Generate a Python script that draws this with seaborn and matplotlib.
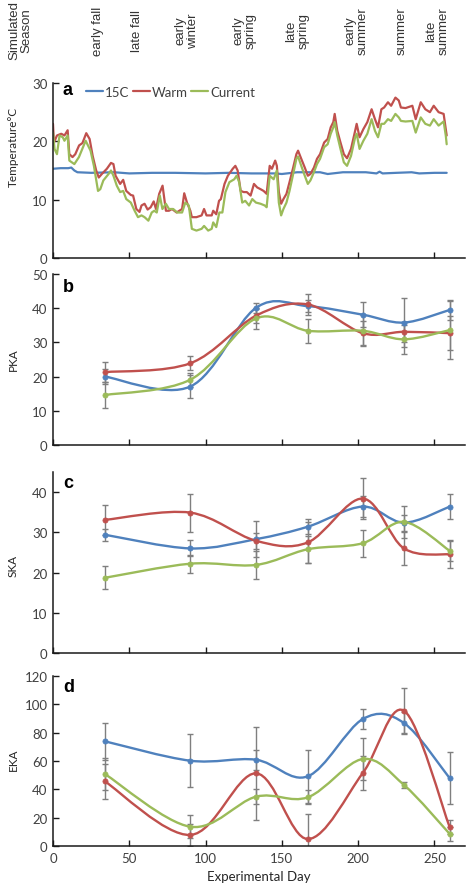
import numpy as np
import matplotlib
matplotlib.use("Agg")
import matplotlib.pyplot as plt
from matplotlib.path import Path
from matplotlib.patches import PathPatch
import seaborn as sns

# ---- data -------------------------------------------------------------
season_labels = ["early fall", "late fall", "early\nwinter", "early\nspring",
                 "late\nspring", "early\nsummer", "summer", "late\nsummer"]
season_days = [29, 54, 86, 123, 157, 195, 224, 247]

c15_day = [0, 5, 10, 12, 14, 16, 25, 40, 50, 65, 80, 100, 115, 130, 145, 150, 160, 175, 180, 190,
           205, 212, 214, 216, 225, 235, 240, 250, 258]
c15_temp = [15.3, 15.4, 15.4, 15.5, 15.0, 14.7, 14.6, 14.7, 14.5, 14.6, 14.6, 14.5, 14.6, 14.5, 14.5,
            14.4, 14.7, 14.7, 14.4, 14.7, 14.7, 14.5, 14.8, 14.5, 14.6, 14.7, 14.5, 14.6, 14.6]

warm_day = [0, 0.6, 2.6, 5.4, 7.5, 9.6, 10.7, 12.8, 14.6, 17.1,
            19.3, 21.8, 24, 26, 28.3, 30, 32, 35.3, 38, 39.6,
            41, 44, 46, 48, 51, 52.5, 54.6, 56.7, 58, 60,
            62, 64, 66, 67.5, 69.6, 71.8, 74, 76, 78, 81,
            84.6, 86, 87.8, 90, 91, 94, 97.4, 99, 100.6, 104,
            105, 107, 108.8, 110, 112.4, 114.6, 117.8, 119.5, 121, 123,
            125, 127, 129.5, 131.7, 133.8, 136, 138, 140, 142, 143.5,
            145.6, 146.7, 148, 149.5, 151, 153, 155, 157.4, 159.5, 160.6,
            162.7, 165, 167, 168.7, 171, 173, 175, 177.7, 180, 182,
            183.7, 184.6, 186.3, 188.4, 190.6, 192.7, 195.3, 198, 199, 200.9,
            203.4, 206, 208.8, 211, 213, 215.2, 217, 219.5, 221.6, 224.4,
            226.6, 228, 231, 235.5, 237.7, 241, 244, 247, 249.5, 252.7,
            256, 257.4, 258]
warm_temp = [23.0, 19.8, 21.0, 21.3, 21.0, 21.9, 17.8, 17.3, 17.8, 19.3,
             19.7, 21.4, 20.4, 17.5, 15.0, 13.8, 14.4, 15.3, 16.3, 16.1,
             14.1, 12.7, 13.4, 11.5, 10.8, 10.7, 8.4, 7.9, 9.0, 9.3,
             8.3, 8.7, 9.7, 8.4, 11.0, 12.4, 8.1, 8.1, 8.4, 7.8,
             8.4, 11.1, 9.5, 8.1, 7.0, 7.0, 7.3, 8.4, 7.3, 7.3,
             8.1, 7.5, 9.8, 10.1, 12.7, 14.1, 15.3, 15.8, 15.0, 11.5,
             11.3, 11.3, 10.7, 12.7, 12.1, 11.8, 11.5, 11.0, 15.8, 15.3,
             16.7, 15.8, 11.3, 9.3, 10.1, 11.0, 13.0, 15.5, 17.8, 18.4,
             17.0, 15.5, 14.1, 14.4, 15.5, 17.0, 17.8, 19.8, 20.4, 22.4,
             23.3, 24.7, 21.8, 19.8, 17.8, 17.1, 18.7, 21.8, 23.0, 20.7,
             22.1, 23.3, 25.5, 23.8, 22.4, 25.5, 25.8, 26.7, 26.1, 27.5,
             27.0, 25.8, 25.7, 26.1, 23.8, 26.7, 25.5, 25.0, 26.1, 25.0,
             24.7, 22.1, 21.0]

cur_day = [0, 1, 2.6, 4.3, 6.4, 7.5, 9.6, 10.7, 14, 17,
           21.4, 24.6, 26.8, 29.5, 31, 33, 36.4, 38, 39.6, 41.8,
           44, 46, 48, 51, 53.5, 55.7, 58, 60, 62.5, 64.7,
           66.4, 68, 70, 71.7, 74, 76, 78.8, 81.4, 84.6, 86.7,
           89, 91, 94, 97.4, 99, 101.7, 104, 105, 107, 109,
           111, 113, 115.6, 118.8, 120.3, 122, 124, 126, 128.5, 130.6,
           133, 136, 138.8, 140, 142, 144.6, 146.7, 148, 149.5, 151,
           153, 155, 157.4, 159.5, 160.6, 162.7, 165, 167, 168.7, 171,
           173, 175, 177.7, 180, 182, 183.7, 184.6, 186.3, 188.4, 190.6,
           192.7, 195.3, 198, 199, 200.9, 203.4, 206, 208.8, 211, 213,
           215.2, 217, 219.5, 221.6, 224.4, 226.6, 228, 231, 235.5, 237.7,
           241, 244, 247, 249.5, 252.7, 256, 257.4, 258]
cur_temp = [21.5, 18.7, 17.8, 21.0, 20.7, 20.1, 21.0, 16.7, 16.1, 17.3,
            20.1, 18.4, 15.8, 11.5, 11.8, 13.3, 14.4, 15.0, 14.1, 12.4,
            11.3, 11.5, 10.1, 9.5, 8.1, 7.0, 7.3, 7.0, 6.4, 7.8,
            8.1, 7.8, 10.7, 8.4, 9.3, 8.4, 8.4, 7.8, 7.8, 9.5,
            9.0, 5.0, 4.7, 5.0, 5.5, 4.7, 5.0, 6.1, 5.3, 7.8,
            7.8, 11.3, 13.0, 13.5, 14.1, 13.0, 9.5, 9.8, 9.0, 10.1,
            9.5, 9.3, 9.0, 8.7, 14.1, 13.5, 15.0, 9.5, 7.3, 8.4,
            9.5, 11.5, 14.4, 17.0, 17.4, 15.8, 14.1, 12.7, 13.3, 14.7,
            16.1, 17.0, 19.0, 19.5, 21.3, 22.4, 23.3, 21.0, 18.7, 16.4,
            15.8, 17.5, 20.7, 21.3, 18.7, 20.1, 21.3, 23.8, 21.8, 20.7,
            23.0, 23.0, 23.8, 23.5, 24.7, 24.1, 23.5, 23.4, 23.5, 21.5,
            24.1, 23.0, 22.7, 23.8, 22.7, 23.4, 21.0, 19.5]

sample_days = [34, 90, 133, 167, 203, 230, 260]

pka_15c = [20.0, 17.1, 40.1, 40.6, 38.1, 35.8, 39.5]
pka_15c_err = [2.2, 3.4, 1.5, 1.8, 3.6, 7.2, 2.9]
pka_warm = [21.3, 23.9, 37.8, 41.1, 32.7, 33.1, 32.7]
pka_warm_err = [2.9, 2.1, 2.0, 3.0, 3.5, 3.0, 5.0]
pka_current = [14.6, 19.1, 37.0, 33.4, 33.4, 30.9, 33.6]
pka_current_err = [3.8, 2.0, 3.0, 3.5, 4.5, 4.2, 8.5]

ska_15c = [29.4, 26.0, 28.3, 31.4, 36.4, 32.4, 36.4]
ska_15c_err = [1.5, 2.0, 4.4, 1.8, 2.7, 2.0, 3.2]
ska_warm = [33.1, 34.9, 27.9, 27.5, 38.4, 26.0, 24.5]
ska_warm_err = [3.7, 4.7, 2.0, 5.0, 5.0, 4.0, 3.4]
ska_current = [18.7, 22.2, 21.9, 25.8, 27.3, 32.6, 25.4]
ska_current_err = [2.9, 2.2, 3.4, 3.4, 3.4, 4.0, 2.6]

eka_15c = [73.9, 60.2, 60.9, 49.2, 89.6, 86.8, 47.8]
eka_15c_err = [13, 18.6, 7, 18.6, 7, 8, 18.5]
eka_warm = [45.6, 7.8, 51.3, 4.9, 51.5, 95.5, 13.2]
eka_warm_err = [12.5, 7.8, 33, 17.7, 12, 15.8, 5]
eka_current = [50.8, 13.6, 34.8, 34.4, 61.4, 43.1, 8.5]
eka_current_err = [11, 8, 5.5, 5, 15, 2, 5]

BLUE, RED, GREEN = "#4F81BD", "#C0504D", "#9BBB59"
GREY_TXT = "#404040"

sns.set_theme(style="ticks")
plt.rcParams["font.family"] = ["Lato", "DejaVu Sans"]

W, H = 475, 895
fig = plt.figure(figsize=(W / 100, H / 100), dpi=100)


def px_axes(left, top, right, bottom):
    return fig.add_axes([left / W, 1 - bottom / H, (right - left) / W, (bottom - top) / H])


def smooth_curve(ax, xs, ys, color):
    # Excel-style smoothed line: cubic Bezier through the points
    pts = np.column_stack([xs, ys]).astype(float)
    n = len(pts)
    verts, codes = [pts[0]], [Path.MOVETO]
    for i in range(n - 1):
        p0 = pts[i - 1] if i > 0 else pts[i]
        p1, p2 = pts[i], pts[i + 1]
        p3 = pts[i + 2] if i + 2 < n else pts[i + 1]
        verts += [p1 + (p2 - p0) / 6, p2 - (p3 - p1) / 6, p2]
        codes += [Path.CURVE4] * 3
    ax.add_patch(PathPatch(Path(verts, codes), facecolor="none", edgecolor=color,
                           lw=1.7, zorder=3, capstyle="round"))


def style_axes(ax, ymax, ystep, top):
    ax.set_xlim(0, 270)
    ax.set_ylim(0, top)
    ax.set_yticks(np.arange(0, ymax + 1, ystep))
    ax.set_xticks(np.arange(0, 251, 50))
    sns.despine(ax=ax)
    for s in ["left", "bottom"]:
        ax.spines[s].set_color("#1a1a1a")
        ax.spines[s].set_linewidth(1.1)
    ax.tick_params(direction="in", length=4, width=1, color="#1a1a1a",
                   labelsize=9.5, labelcolor=GREY_TXT, pad=4)
    ax.set_xlabel("")
    ax.set_ylabel("")


# panel a
ax_a = px_axes(53, 84, 465, 259)
sns.lineplot(x=c15_day, y=c15_temp, ax=ax_a, color=BLUE, lw=1.6, estimator=None, label="15C")
sns.lineplot(x=warm_day, y=warm_temp, ax=ax_a, color=RED, lw=1.6, estimator=None, label="Warm")
sns.lineplot(x=cur_day, y=cur_temp, ax=ax_a, color=GREEN, lw=1.6, estimator=None, label="Current")
style_axes(ax_a, 30, 10, 30)
ax_a.tick_params(axis="x", labelbottom=False)
ax_a.legend(loc="upper left", bbox_to_anchor=(0.08, 0.985), ncol=3, frameon=False,
            handlelength=1.3, handletextpad=0.15, columnspacing=0.25, borderpad=0,
            borderaxespad=0, fontsize=9.5, labelcolor=GREY_TXT)

panels = [
    ((53, 275, 465, 446), 50, 10, 50, "PKA", 360,
     [(pka_15c, pka_15c_err, BLUE), (pka_warm, pka_warm_err, RED), (pka_current, pka_current_err, GREEN)]),
    ((53, 473, 465, 654), 40, 10, 45, "SKA", 566,
     [(ska_15c, ska_15c_err, BLUE), (ska_warm, ska_warm_err, RED), (ska_current, ska_current_err, GREEN)]),
    ((53, 677, 465, 847), 120, 20, 120, "EKA", 760,
     [(eka_15c, eka_15c_err, BLUE), (eka_warm, eka_warm_err, RED), (eka_current, eka_current_err, GREEN)]),
]

axes = [ax_a]
for box, ymax, ystep, top, ylab, ylab_y, series in panels:
    ax = px_axes(*box)
    for vals, errs, col in series:
        ax.errorbar(sample_days, vals, yerr=errs, fmt="none", ecolor="#7f7f7f",
                    elinewidth=1, capsize=2, capthick=1, zorder=2)
    for vals, errs, col in series:
        smooth_curve(ax, sample_days, vals, col)
        sns.scatterplot(x=sample_days, y=vals, ax=ax, color=col, s=14,
                        edgecolor=col, linewidth=0.5, zorder=4, legend=False)
    style_axes(ax, ymax, ystep, top)
    fig.text(13 / W, 1 - ylab_y / H, ylab, rotation=90, ha="center", va="center",
             fontsize=8.5, color="#262626")
    axes.append(ax)

for ax in axes[1:3]:
    ax.tick_params(axis="x", labelbottom=False)

axes[3].set_xlabel("Experimental Day", fontsize=9.5, color="#262626", labelpad=5)

fig.text(13 / W, 1 - 147 / H, "Temperature°C", rotation=90, ha="center", va="center",
         fontsize=8.5, color="#262626")

# panel letters
for ax, letter, yb in zip(axes, "abcd", [0.937, 0.90, 0.917, 0.91]):
    ax.text(0.024, yb, letter, transform=ax.transAxes, fontsize=13, fontweight="bold",
            family="Liberation Sans", va="baseline", ha="left", color="black")

# simulated season labels across the top
fig.text(20 / W, 1 - 31 / H, "Simulated\nSeason", rotation=90, ha="center", va="center",
         multialignment="center", fontsize=9.5, family="Liberation Sans", color="#333333",
         linespacing=1.0)
for lab, d in zip(season_labels, season_days):
    xpx = 53 + d * 1.556
    fig.text(xpx / W, 1 - 31 / H, lab, rotation=90, ha="center", va="center",
             multialignment="center", fontsize=9.5, family="Liberation Sans",
             color="#333333", linespacing=1.0)

fig.savefig("out.png", dpi=100)
